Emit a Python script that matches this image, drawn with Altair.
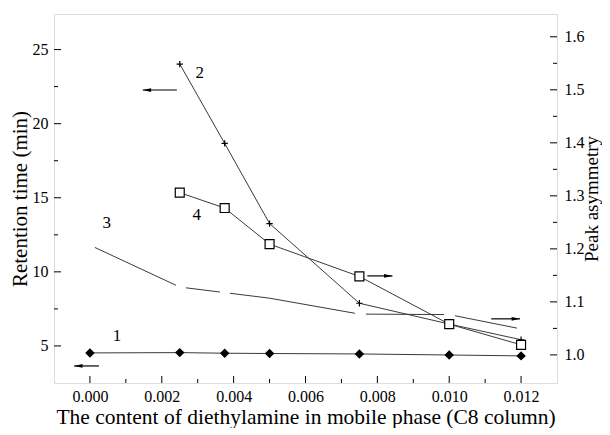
import altair as alt
import pandas as pd

# ---- data ----
s1_x = [0.0, 0.0025, 0.00375, 0.005, 0.0075, 0.010, 0.012]
s1_rt = [4.53, 4.55, 4.51, 4.49, 4.46, 4.39, 4.33]          # curve 1, left axis
s2_x = [0.0025, 0.00375, 0.005, 0.0075, 0.010, 0.012]
s2_rt = [24.02, 18.67, 13.26, 7.88, 6.48, 5.42]             # curve 2, left axis
s3_x = [0.0, 0.0025, 0.005, 0.0075, 0.010, 0.012]
s3_as = [1.207, 1.128, 1.107, 1.077, 1.076, 1.049]          # curve 3, right axis
s4_x = [0.0025, 0.00375, 0.005, 0.0075, 0.010, 0.012]
s4_as = [1.306, 1.277, 1.209, 1.148, 1.058, 1.019]          # curve 4, right axis

x_ticks = [0.0, 0.002, 0.004, 0.006, 0.008, 0.010, 0.012]
x_minor = [0.001, 0.003, 0.005, 0.007, 0.009, 0.011]
left_ticks = [5, 10, 15, 20, 25]
left_minor = [7.5, 12.5, 17.5, 22.5]
right_ticks = [1.0, 1.1, 1.2, 1.3, 1.4, 1.5, 1.6]
right_minor = [1.05, 1.15, 1.25, 1.35, 1.45, 1.55]

left_labels = ["1", "2", "3", "4"]
left_label_x = [0.00075, 0.00306, 0.00047, 0.00297]
left_label_y = [5.67, 23.41, 13.3, 13.84]

# arrows: (x_tail, x_head, y) ; left-axis arrows point left, right-axis arrows point right
left_arrow_tail = [0.00025, 0.00242]
left_arrow_head = [-0.00044, 0.00147]
left_arrow_y = [3.65, 22.27]
right_arrow_tail = [0.00772, 0.01117]
right_arrow_head = [0.00842, 0.01197]
right_arrow_y = [1.149, 1.068]

W, H = 503, 369
FONT = "Liberation Serif"
LINE = "#3a3a3a"
# irregular long-dash pattern of curve 3 (px along the path)
DASH3 = [0, 5.5, 89.4, 10.4, 34.3, 10.1, 126.6, 11.1, 78, 11.1, 63.2, 30]

xs = alt.Scale(domain=[-0.001, 0.013], nice=False, zero=False)
ls = alt.Scale(domain=[2.5, 27.4], nice=False, zero=False)
rs = alt.Scale(domain=[0.947, 1.643], nice=False, zero=False)

x_axis = alt.Axis(values=x_ticks, format=".3f", ticks=False, tickSize=0, domain=False, grid=False,
                  labelPadding=5, labelFontSize=16, labelFont=FONT, labelColor="black",
                  title="The content of diethylamine in mobile phase (C8 column)",
                  titleFontSize=21.5, titleFont=FONT, titleFontWeight="normal", titleColor="black",
                  titleX=W / 2, titleY=40, titleAlign="center", titleBaseline="alphabetic")
l_axis = alt.Axis(values=left_ticks, ticks=False, tickSize=0, domain=False, grid=False,
                  labelPadding=6, labelFontSize=16, labelFont=FONT, labelColor="black",
                  title="Retention time (min)", titleFontSize=21, titleFont=FONT,
                  titleFontWeight="normal", titleColor="black",
                  titleX=-34, titleY=H / 2, titleAngle=270, titleAlign="center", titleBaseline="middle")
r_axis = alt.Axis(values=right_ticks, format=".1f", orient="right", ticks=False, tickSize=0,
                  domain=False, grid=False, labelPadding=7, labelFontSize=16, labelFont=FONT,
                  labelColor="black", title="Peak asymmetry", titleFontSize=19, titleFont=FONT,
                  titleFontWeight="normal", titleColor="black",
                  titleX=40, titleY=H / 2, titleAngle=270, titleAlign="center", titleBaseline="alphabetic")

X = alt.X("x:Q", scale=xs, axis=x_axis)
YL = alt.Y("y:Q", scale=ls, axis=l_axis)
YR = alt.Y("y:Q", scale=rs, axis=r_axis)

d1 = pd.DataFrame({"x": s1_x, "y": s1_rt})
d2 = pd.DataFrame({"x": s2_x, "y": s2_rt})
d3 = pd.DataFrame({"x": s3_x, "y": s3_as})
d4 = pd.DataFrame({"x": s4_x, "y": s4_as})

plus_path = "M -1 0 L 1 0 M 0 -1 L 0 1"
head_left = "M 0 0 L 2 -0.45 L 2 0.45 Z"
head_right = "M 0 0 L -2 -0.45 L -2 0.45 Z"

# ---- left-axis group ----
l1_line = alt.Chart(d1).mark_line(color=LINE, strokeWidth=1).encode(x=X, y=YL)
l1_pts = alt.Chart(d1).mark_point(shape="diamond", filled=True, color="black", size=90, opacity=1).encode(x=X, y=YL)
l2_line = alt.Chart(d2).mark_line(color=LINE, strokeWidth=1).encode(x=X, y=YL)
l2_pts = alt.Chart(d2).mark_point(shape=plus_path, filled=False, color="black", size=40,
                                  strokeWidth=1.2, opacity=1).encode(x=X, y=YL)

dlab = pd.DataFrame({"x": left_label_x, "y": left_label_y, "t": left_labels})
labels = alt.Chart(dlab).mark_text(font=FONT, fontSize=17, color="black").encode(x=X, y=YL, text="t:N")

dla = pd.DataFrame({"x": left_arrow_tail, "x2": left_arrow_head, "y": left_arrow_y})
la_line = alt.Chart(dla).mark_rule(color="black", strokeWidth=1.2).encode(x=X, x2="x2:Q", y=YL)
la_head = alt.Chart(dla).mark_point(shape=head_left, filled=True, color="black", size=70, opacity=1).encode(
    x=alt.X("x2:Q", scale=xs, axis=x_axis), y=YL)

dlt = pd.DataFrame({"y": left_ticks})
dltm = pd.DataFrame({"y": left_minor})
lt_major = alt.Chart(dlt).mark_rule(color="black", strokeWidth=1).encode(
    x=alt.value(0), x2=alt.value(7), y=YL)
lt_minor = alt.Chart(dltm).mark_rule(color="black", strokeWidth=1).encode(
    x=alt.value(0), x2=alt.value(4), y=YL)

dxt = pd.DataFrame({"x": x_ticks})
dxtm = pd.DataFrame({"x": x_minor})
xt_major = alt.Chart(dxt).mark_rule(color="black", strokeWidth=1).encode(
    x=X, y=alt.value(H), y2=alt.value(H - 7))
xt_minor = alt.Chart(dxtm).mark_rule(color="black", strokeWidth=1).encode(
    x=X, y=alt.value(H), y2=alt.value(H - 4))

left_group = alt.layer(l1_line, l2_line, l1_pts, l2_pts, labels, la_line, la_head,
                       lt_major, lt_minor, xt_major, xt_minor)

# ---- right-axis group ----
r3_line = alt.Chart(d3).mark_line(color=LINE, strokeWidth=1, strokeDash=DASH3).encode(x=X, y=YR)
r4_line = alt.Chart(d4).mark_line(color=LINE, strokeWidth=1).encode(x=X, y=YR)
r4_pts = alt.Chart(d4).mark_point(shape="square", filled=True, fill="white", stroke="black",
                                  strokeWidth=1.2, size=80, opacity=1).encode(x=X, y=YR)

dra = pd.DataFrame({"x": right_arrow_tail, "x2": right_arrow_head, "y": right_arrow_y})
ra_line = alt.Chart(dra).mark_rule(color="black", strokeWidth=1.2).encode(x=X, x2="x2:Q", y=YR)
ra_head = alt.Chart(dra).mark_point(shape=head_right, filled=True, color="black", size=70, opacity=1).encode(
    x=alt.X("x2:Q", scale=xs, axis=x_axis), y=YR)

drt = pd.DataFrame({"y": right_ticks})
drtm = pd.DataFrame({"y": right_minor})
rt_major = alt.Chart(drt).mark_rule(color="black", strokeWidth=1).encode(
    x=alt.value(W - 7), x2=alt.value(W), y=YR)
rt_minor = alt.Chart(drtm).mark_rule(color="black", strokeWidth=1).encode(
    x=alt.value(W - 4), x2=alt.value(W), y=YR)

right_group = alt.layer(r3_line, r4_line, r4_pts, ra_line, ra_head, rt_major, rt_minor)

chart = alt.layer(left_group, right_group).resolve_scale(y="independent").properties(
    width=W, height=H,
    autosize=alt.AutoSizeParams(type="none"),
    padding={"left": 46, "top": 6, "right": 45, "bottom": 45},
).configure_view(stroke="black", strokeWidth=1.5).configure(background="white")

chart.save("out.html", embed_options={"renderer": "svg", "actions": False})
